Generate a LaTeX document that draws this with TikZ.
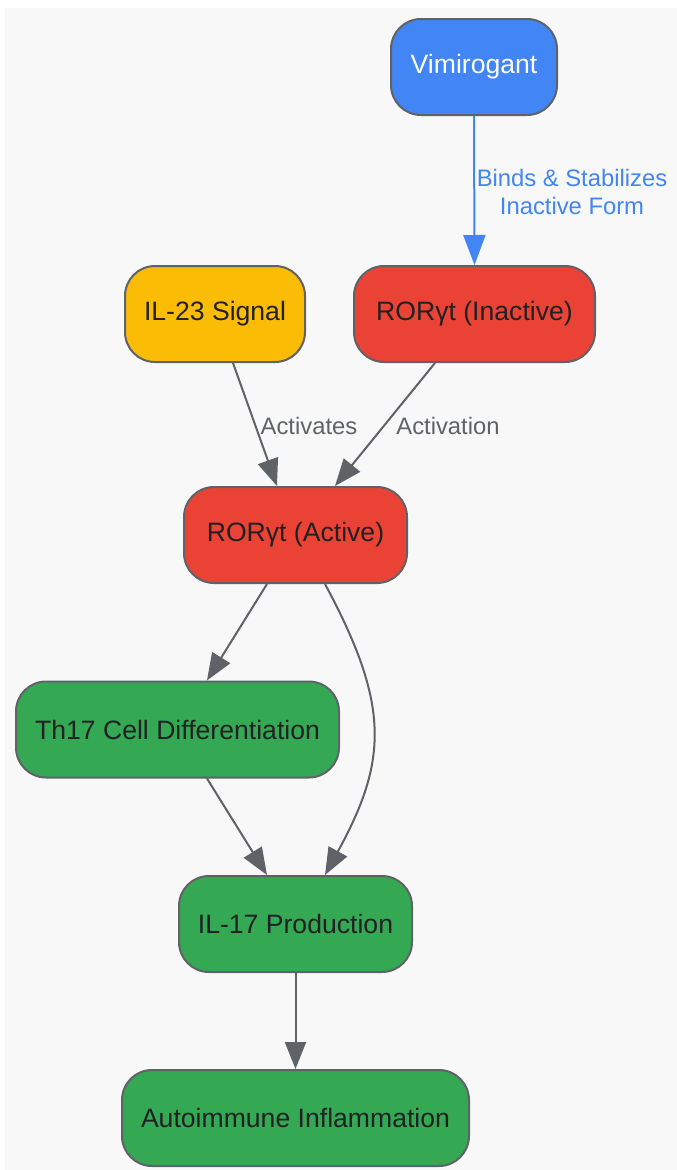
\documentclass[tikz,border=0pt]{standalone}
\usepackage{fontspec}
\setmainfont{Liberation Sans}
\usetikzlibrary{arrows.meta}
\definecolor{bgc}{HTML}{F8F8F8}
\definecolor{edgegray}{HTML}{5F6368}
\definecolor{gblue}{HTML}{4285F4}
\definecolor{gred}{HTML}{EA4335}
\definecolor{gyellow}{HTML}{FBBC05}
\definecolor{ggreen}{HTML}{34A853}
\definecolor{txt}{HTML}{202124}
\tikzset{
  box/.style={draw=edgegray, line width=2pt, rounded corners=30pt, minimum height=96pt,
    inner sep=0pt, text=txt, font=\fontsize{26.6}{31}\selectfont},
  conn/.style={draw=edgegray, line width=2pt, -{Triangle[length=27pt,width=21pt]}},
  bconn/.style={draw=gblue, line width=2pt, -{Triangle[length=30pt,width=22pt]}},
  elab/.style={text=edgegray, font=\fontsize{23.8}{28}\selectfont, align=center, inner sep=0pt},
  blab/.style={text=gblue, font=\fontsize{23.8}{28}\selectfont, align=center, inner sep=0pt},
}
\begin{document}
\begin{tikzpicture}[x=1pt,y=1pt]
\useasboundingbox (0,0) rectangle (677,-1170);
\fill[bgc] (5,-8) rectangle (677,-1170);

\node[box, fill=gblue, text=white, minimum width=166pt] (vim) at (474,-67) {Vimirogant};
\node[box, fill=gyellow, minimum width=180pt] (il23) at (215,-314) {IL-23 Signal};
\node[box, fill=gred, minimum width=241pt] (inact) at (474.5,-314) {RORγt (Inactive)};
\node[box, fill=gred, minimum width=223pt] (act) at (295.5,-535) {RORγt (Active)};
\node[box, fill=ggreen, minimum width=323pt] (th17) at (177.5,-729.5) {Th17 Cell Differentiation};
\node[box, fill=ggreen, minimum width=233pt] (il17) at (295.5,-924) {IL-17 Production};
\node[box, fill=ggreen, minimum width=347pt] (auto) at (295.5,-1118) {Autoimmune Inflammation};

\draw[bconn] (vim.south) -- (inact.north);
\node[blab] (lb1) at (572,-192) {Binds \& Stabilizes\\Inactive Form};

\draw[conn] ([xshift=18pt]il23.south) -- ([xshift=-18.5pt]act.north);
\node[elab] (lb2) at (309,-426) {Activates};
\draw[conn] ([xshift=-39.5pt]inact.south) -- ([xshift=39.5pt]act.north);
\node[elab] (lb3) at (448,-426) {Activation};

\draw[conn] ([xshift=-28.5pt]act.south) -- ([xshift=29.5pt]th17.north);
\draw[conn] ([xshift=29.5pt]act.south) .. controls (390,-705) and (388,-760) .. ([xshift=29.5pt]il17.north);
\draw[conn] ([xshift=29.5pt]th17.south) -- ([xshift=-28.5pt]il17.north);
\draw[conn] (il17.south) -- (auto.north);
\end{tikzpicture}
\end{document}
